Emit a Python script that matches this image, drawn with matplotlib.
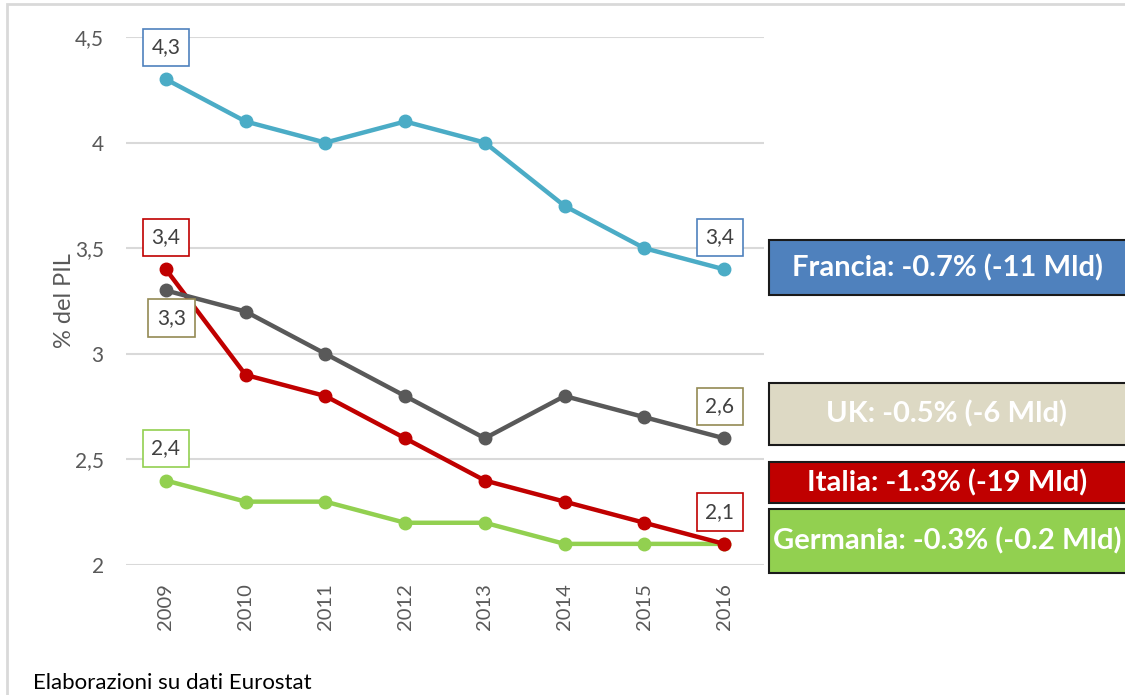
import matplotlib.pyplot as plt
from matplotlib.patches import Rectangle

plt.rcParams['font.family'] = ['Lato', 'DejaVu Sans']

# dati (% del PIL)
anni = ['2009', '2010', '2011', '2012', '2013', '2014', '2015', '2016']
francia = [4.3, 4.1, 4.0, 4.1, 4.0, 3.7, 3.5, 3.4]
uk = [3.3, 3.2, 3.0, 2.8, 2.6, 2.8, 2.7, 2.6]
italia = [3.4, 2.9, 2.8, 2.6, 2.4, 2.3, 2.2, 2.1]
germania = [2.4, 2.3, 2.3, 2.2, 2.2, 2.1, 2.1, 2.1]

y_ticks = [2, 2.5, 3, 3.5, 4, 4.5]
y_tick_labels = ['2', '2,5', '3', '3,5', '4', '4,5']

legenda = ['Francia: -0.7% (-11 Mld)', 'UK: -0.5% (-6 Mld)',
           'Italia: -1.3% (-19 Mld)', 'Germania: -0.3% (-0.2 Mld)']

fig = plt.figure(figsize=(11.25, 6.95), dpi=100)
ax = fig.add_axes([126/1125, 1-565/695, (764-126)/1125, (565-37)/695])

x = list(range(len(anni)))
serie = [(germania, '#92D050'), (italia, '#C00000'), (uk, '#595959'), (francia, '#4BACC6')]
for vals, col in serie:
    ax.plot(x, vals, color=col, lw=3.2, marker='o', markersize=9, solid_capstyle='round', zorder=3)

ax.set_xlim(-0.5, 7.5)
ax.set_ylim(2, 4.5)
ax.set_yticks(y_ticks)
ax.set_yticklabels(y_tick_labels, fontsize=15, color='#595959')
ax.set_xticks(x)
ax.set_xticklabels(anni, rotation=90, fontsize=14.5, color='#595959')
ax.tick_params(length=0, pad=13)
ax.tick_params(axis='y', pad=16)
ax.grid(axis='y', color='#D9D9D9', lw=1.5)
ax.set_axisbelow(True)
for s in ax.spines.values():
    s.set_visible(False)
ax.set_ylabel('% del PIL', fontsize=17, color='#595959', labelpad=0)


def etichetta(i, vals, edge, dx=0, dy=23):
    ax.annotate(f'{vals[i]:.1f}'.replace('.', ','), (x[i], vals[i]), xytext=(dx, dy),
                textcoords='offset points', ha='center', va='center', fontsize=15,
                color='#404040', zorder=5,
                bbox=dict(boxstyle='square,pad=0.42', fc='white', ec=edge, lw=1.2))


etichetta(0, francia, '#4F81BD')
etichetta(0, italia, '#C00000')
etichetta(0, uk, '#948A54', dx=4, dy=-20)
etichetta(0, germania, '#92D050')
etichetta(7, francia, '#4F81BD', dx=-3)
etichetta(7, uk, '#948A54', dx=-3)
etichetta(7, italia, '#C00000', dx=-3)

# riquadri di legenda (coordinate in pixel)
box_y = [(240, 295), (383, 445), (462, 503), (509, 573)]
box_col = ['#4F81BD', '#DDD9C4', '#C00000', '#92D050']
for testo, (y0, y1), col in zip(legenda, box_y, box_col):
    fig.add_artist(Rectangle((769/1125, 1-y1/695), 400/1125, (y1-y0)/695,
                             transform=fig.transFigure, fc=col, ec='#1a1a1a', lw=1.5))
    fig.text(947/1125, 1-(y0+y1)/2/695, testo, ha='center', va='center',
             fontsize=21, fontweight='bold', color='white')

# bordo esterno
fig.add_artist(Rectangle((7/1125, -0.1), 1.2, 1.1-4/695, transform=fig.transFigure,
                         fill=False, ec='#D9D9D9', lw=2))

fig.text(33/1125, 1-683/695, 'Elaborazioni su dati Eurostat', fontsize=16,
         color='black', va='center')

fig.savefig('out.png', dpi=100)
